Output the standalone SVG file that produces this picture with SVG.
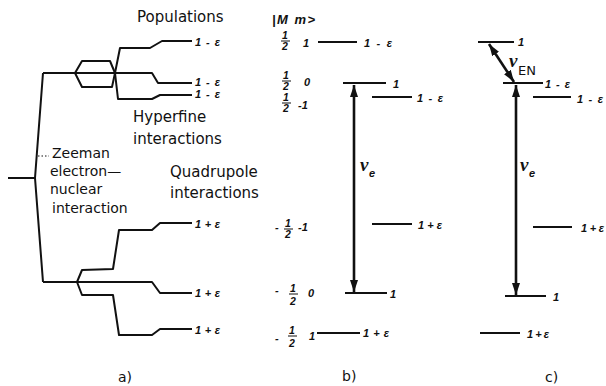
<svg xmlns="http://www.w3.org/2000/svg" width="606" height="386" viewBox="0 0 606 386">
<style>
.ln{fill:none;stroke:#111;stroke-width:2;stroke-linejoin:round;stroke-linecap:butt}
.ar{fill:none;stroke:#111;stroke-width:2.6}
.t{font-family:"DejaVu Sans",sans-serif;font-size:15px;fill:#111}
.tl{font-family:"DejaVu Sans",sans-serif;font-size:14px;fill:#111}
.e{font-family:"Liberation Sans",sans-serif;font-size:11px;font-style:italic;font-weight:bold;fill:#111}
.f{font-family:"Liberation Sans",sans-serif;font-size:10.5px;font-style:italic;font-weight:bold;fill:#111}
.nu{font-family:"Liberation Serif",serif;font-size:19px;font-style:italic;font-weight:bold;fill:#111}
.sub{font-family:"Liberation Sans",sans-serif;font-size:11px;font-style:italic;font-weight:bold;fill:#111}
.bar{stroke:#111;stroke-width:1}
</style>
<defs>
<marker id="ah" viewBox="0 0 12 8" markerWidth="12" markerHeight="8" refX="12" refY="4" orient="auto-start-reverse" markerUnits="userSpaceOnUse">
<path d="M0,0 L12,4 L0,8 z" fill="#111"/>
</marker>
</defs>

<!-- Panel a: splitting tree -->
<g id="tree-a">
<path class="ln" d="M8,178 L35,178"/>
<path class="ln" d="M43,73 L35,178 L43,282"/>
<path class="ln" d="M43,73 L152,73 L158,83 L192,83"/>
<path class="ln" d="M75,73 L82,61 L110,61 L115,73 L118,99 L152,99 L160,95 L192,95"/>
<path class="ln" d="M75,73 L82,87 L112,87 L115,73 L120,48 L150,48 L162,41 L192,41"/>
<path class="ln" d="M43,282 L152,282 L160,293 L192,293"/>
<path class="ln" d="M77,282 L82,270 L113,269 L119,230 L152,230 L160,223 L192,223"/>
<path class="ln" d="M77,282 L82,295 L113,295 L119,335 L152,335 L160,329 L192,329"/>
<path d="M38,156 L49,156" stroke="#111" stroke-width="1" stroke-dasharray="1.5,2"/>
</g>
<g id="labels-a">
<text class="t" x="137" y="22">Populations</text>
<text class="t" x="133" y="122">Hyperfine</text>
<text class="t" x="133" y="144">interactions</text>
<text class="t" x="170" y="177">Quadrupole</text>
<text class="t" x="170" y="198">interactions</text>
<text class="tl" x="52" y="158">Zeeman</text>
<text class="tl" x="50" y="176">electron—</text>
<text class="tl" x="50" y="194">nuclear</text>
<text class="tl" x="52" y="213">interaction</text>
<text class="e" x="195" y="46" textLength="25" lengthAdjust="spacing">1-ε</text>
<text class="e" x="195" y="86" textLength="25" lengthAdjust="spacing">1-ε</text>
<text class="e" x="195" y="98" textLength="25" lengthAdjust="spacing">1-ε</text>
<text class="e" x="195" y="228" textLength="25" lengthAdjust="spacing">1+ε</text>
<text class="e" x="195" y="297" textLength="25" lengthAdjust="spacing">1+ε</text>
<text class="e" x="195" y="334" textLength="25" lengthAdjust="spacing">1+ε</text>
<text class="tl" x="118" y="382">a)</text>
</g>

<!-- Quantum numbers column -->
<g id="quantum-numbers">
<text class="e" x="272" y="24" style="font-size:13px" textLength="43" lengthAdjust="spacing">|M m&gt;</text>
<g id="q1"><text class="f" x="285" y="39" text-anchor="middle">1</text><line class="bar" x1="281" y1="41" x2="290" y2="41"/><text class="f" x="285" y="50" text-anchor="middle">2</text><text class="e" x="303" y="47">1</text></g>
<g id="q2"><text class="f" x="286" y="79" text-anchor="middle">1</text><line class="bar" x1="282" y1="81" x2="291" y2="81"/><text class="f" x="286" y="90" text-anchor="middle">2</text><text class="e" x="304" y="86">0</text></g>
<g id="q3"><text class="f" x="286" y="101" text-anchor="middle">1</text><line class="bar" x1="282" y1="103" x2="291" y2="103"/><text class="f" x="286" y="112" text-anchor="middle">2</text><text class="e" x="298" y="109">-1</text></g>
<g id="q4"><text class="e" x="275" y="231">-</text><text class="f" x="288" y="227" text-anchor="middle">1</text><line class="bar" x1="284" y1="229" x2="293" y2="229"/><text class="f" x="288" y="238" text-anchor="middle">2</text><text class="e" x="298" y="231">-1</text></g>
<g id="q5"><text class="e" x="275" y="294">-</text><text class="f" x="293" y="292" text-anchor="middle">1</text><line class="bar" x1="289" y1="294" x2="298" y2="294"/><text class="f" x="293" y="305" text-anchor="middle">2</text><text class="e" x="308" y="297">0</text></g>
<g id="q6"><text class="e" x="275" y="342">-</text><text class="f" x="292" y="334" text-anchor="middle">1</text><line class="bar" x1="288" y1="336" x2="297" y2="336"/><text class="f" x="292" y="347" text-anchor="middle">2</text><text class="e" x="309" y="340">1</text></g>
</g>

<!-- Panel b levels -->
<g id="levels-b">
<g id="b1"><line class="ln" x1="318" y1="42" x2="357" y2="42"/><text class="e" x="364" y="47" textLength="28" lengthAdjust="spacing">1-ε</text></g>
<g id="b2"><line class="ln" x1="343" y1="83" x2="386" y2="83"/><text class="e" x="393" y="88">1</text></g>
<g id="b3"><line class="ln" x1="372" y1="97" x2="412" y2="97"/><text class="e" x="417" y="102" textLength="26" lengthAdjust="spacing">1-ε</text></g>
<g id="b4"><line class="ln" x1="372" y1="224" x2="412" y2="224"/><text class="e" x="418" y="229" textLength="24" lengthAdjust="spacing">1+ε</text></g>
<g id="b5"><line class="ln" x1="345" y1="293" x2="387" y2="293"/><text class="e" x="390" y="298">1</text></g>
<g id="b6"><line class="ln" x1="317" y1="333" x2="360" y2="333"/><text class="e" x="363" y="337" textLength="26" lengthAdjust="spacing">1+ε</text></g>
<text class="tl" x="342" y="381">b)</text>
</g>

<!-- Panel c levels -->
<g id="levels-c">
<g id="c1"><line class="ln" x1="478" y1="42" x2="514" y2="42"/><text class="e" x="518" y="46">1</text></g>
<g id="c2"><line class="ln" x1="503" y1="83" x2="543" y2="83"/><text class="e" x="545" y="88" textLength="25" lengthAdjust="spacing">1-ε</text></g>
<g id="c3"><line class="ln" x1="533" y1="97" x2="571" y2="97"/><text class="e" x="577" y="103" textLength="26" lengthAdjust="spacing">1-ε</text></g>
<g id="c4"><line class="ln" x1="533" y1="227" x2="572" y2="227"/><text class="e" x="581" y="232" textLength="23" lengthAdjust="spacing">1+ε</text></g>
<g id="c5"><line class="ln" x1="505" y1="296" x2="546" y2="296"/><text class="e" x="553" y="301">1</text></g>
<g id="c6"><line class="ln" x1="480" y1="333" x2="520" y2="333"/><text class="e" x="527" y="338" textLength="22" lengthAdjust="spacing">1+ε</text></g>
<text class="tl" x="545" y="382">c)</text>
</g>

<!-- Connectors: transitions -->
<g id="connectors">
<line class="ar" x1="354" y1="85" x2="354" y2="292" marker-start="url(#ah)" marker-end="url(#ah)"/>
<line class="ar" x1="516" y1="85" x2="516" y2="295" marker-start="url(#ah)" marker-end="url(#ah)"/>
<line class="ar" x1="489" y1="44" x2="514" y2="82" marker-start="url(#ah)" marker-end="url(#ah)"/>
</g>
<g id="transition-labels">
<text class="nu" x="360" y="171">ν</text><text class="sub" x="369" y="177">e</text>
<text class="nu" x="520" y="171">ν</text><text class="sub" x="529" y="177">e</text>
<text class="nu" x="509" y="67">ν</text><text x="518" y="75" font-family="DejaVu Sans, sans-serif" font-size="13" fill="#111">EN</text>
</g>
</svg>
